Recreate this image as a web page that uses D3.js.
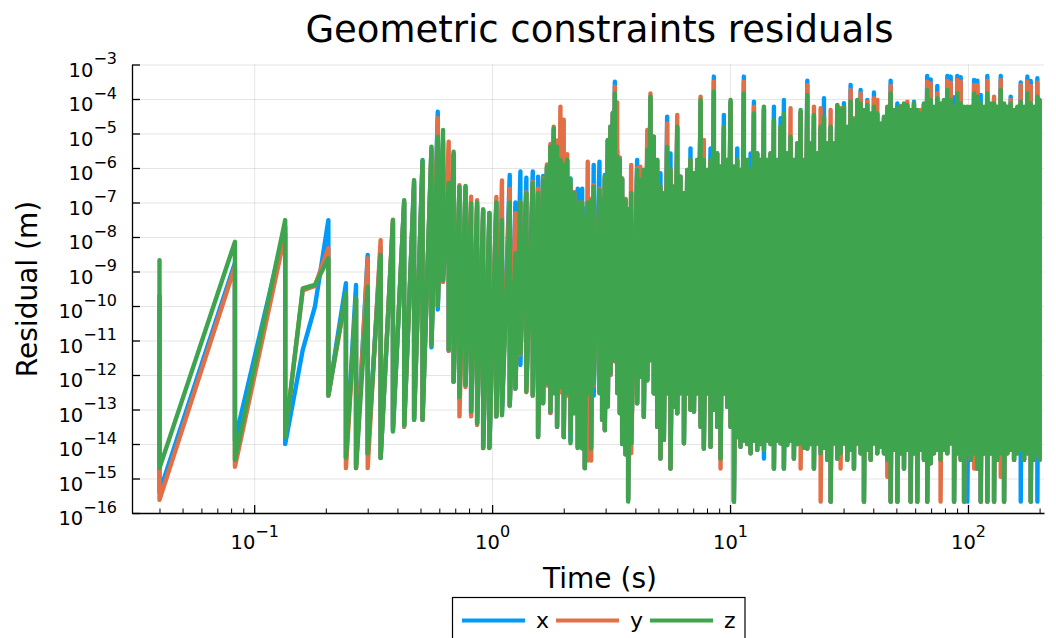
<!DOCTYPE html>
<html>
<head>
<meta charset="utf-8">
<script src="https://cdn.jsdelivr.net/npm/d3@7"></script>
<style>
  body { margin: 0; background: #fff; }
  text { font-family: "DejaVu Sans", sans-serif; fill: #000; }
</style>
</head>
<body>
<svg id="chart" width="1056" height="638"></svg>
<script>
// sample times (s): at each step the residual is logged before and after the correction
var time = [
  0.04, 0.083, 0.135, 0.16, 0.18, 0.205, 0.243, 0.268, 0.30, 0.34, 0.383, 0.427, 0.47, 0.51,
  0.556, 0.591, 0.622, 0.657, 0.689, 0.729, 0.773, 0.816, 0.865, 0.917, 0.974,
  1.042, 1.10, 1.186, 1.253, 1.315, 1.393, 1.482, 1.56, 1.638, 1.70, 1.758, 1.816, 1.875, 1.937,
  2.0, 2.068, 2.135, 2.218, 2.29, 2.39, 2.452, 2.523, 2.607, 2.673, 2.826, 2.90, 2.976,
  3.063, 3.145, 3.215, 3.28, 3.355, 3.44, 3.52, 3.635, 3.73, 3.842,
  4.07, 4.20, 4.34, 4.49, 4.63, 4.78, 4.94, 5.10, 5.27, 5.44, 5.62, 5.80, 6.00, 6.19, 6.40,
  6.61, 6.82, 7.05, 7.28, 7.52, 7.76, 8.02, 8.28, 8.55, 8.83, 9.12, 9.42, 9.73, 10.05, 10.38,
  10.72, 11.07, 11.43, 11.81, 12.20, 12.60, 13.01, 13.44, 13.88, 14.33, 14.80, 15.29, 15.79,
  16.31, 16.84, 17.39, 17.96, 18.55, 19.16, 19.80, 20.45, 21.12, 21.81, 22.52, 23.26, 24.03,
  24.82, 25.63, 26.47, 27.33, 28.23,
  29.15, 30.11, 31.10, 32.12, 33.17, 34.26, 35.38, 36.54, 37.74, 38.98, 40.26, 41.58, 42.95,
  44.36, 45.81, 47.31, 48.87, 50.47, 52.12, 53.83, 55.6, 57.4, 59.3, 61.2, 63.2, 65.3, 67.4,
  69.7, 71.9, 74.3, 76.7, 79.3, 81.9, 84.6, 87.4, 90.2, 93.2, 96.3, 99.4, 102.7, 106.1, 109.5,
  113.1, 116.8, 120.6, 124.6, 128.7, 132.9, 137.3, 141.8, 146.4, 151.2, 156.2, 161.3, 166.6,
  172.1, 177.7, 183.5, 189.5, 195.7, 200
];

// log10 of the residual (m), before correction (High) and after (Low)
var xHigh = [
  -9.7, -8.75, -7.7, -11.27, -10.02, -7.51, -9.34, -9.39, -8.52, -8.3, -7.6, -7.0, -6.4, -5.8,
  -5.5, -4.37, -5.2, -6.5, -5.6, -6.6, -6.6, -7.1, -7.1, -7.25, -7.35,
  -7.0, -7.4, -6.2, -7.0, -6.1, -6.28, -6.1, -6.25, -6.23, -6.0, -5.4, -4.9, -5.4, -5.8, -5.9, -5.8,
  -6.3, -6.7, -6.6, -6.6, -7.17, -7.0, -6.9, -5.91, -5.82, -6.9, -6.2, -5.2, -4.8, -4.4, -3.5, -5.5,
  -5.7, -6.3, -6.9, -7.2, -6.7,
  -5.77, -6.35, -6.06, -5.48, -4.0, -5.09, -5.77, -6.15, -6.73, -4.51, -5.58, -6.54, -4.85, -6.25,
  -6.73, -6.06, -5.43, -6.15, -5.77, -4.1, -5.77, -6.06, -5.43, -3.35, -5.58, -5.96, -4.46, -5.77,
  -4.1, -5.96, -5.43, -6.06, -3.35, -5.77, -5.58, -4.08, -5.58, -5.77, -4.3, -5.77, -5.58, -4.22,
  -5.77, -4.56, -4.03, -5.58, -5.15, -5.77, -5.29, -4.4, -5.77, -3.47, -5.29, -4.5, -5.58, -4.85,
  -3.98, -5.29, -4.85, -5.29, -4.2,
  -4.35, -4.12, -4.85, -3.59, -4.65, -4.05, -3.74, -4.35, -4.03, -4.45, -3.81, -4.45, -4.75, -4.55,
  -4.25, -3.47, -4.35, -4.13, -4.25, -4.15, -4.2, -4.35, -4.08, -4.35, -4.45, -4.15, -3.33, -3.43,
  -4.25, -3.62, -4.15, -4.05, -3.33, -3.35, -3.95, -3.33, -3.37, -4.25, -4.25, -4.25, -3.45, -3.47,
  -3.88, -4.25, -3.33, -4.15, -4.15, -4.25, -3.33, -4.15, -4.25, -3.93, -4.35, -4.25, -3.52, -4.25,
  -3.35, -3.48, -4.25, -3.40, -4.05
];
var xLow = [
  -15.4, -13.9, -14.0, -11.27, -10.02, -12.6, -14.4, -14.6, -14.3, -14.4, -13.6, -13.5, -13.3, -13.3,
  -11.2, -10.1, -9.3, -11.3, -12.2, -12.7, -12.3, -13.1, -13.4, -14.1, -14.1,
  -13.2, -13.1, -12.9, -12.4, -11.71, -12.3, -12.6, -13.8, -12.82, -12.3, -13.1, -12.5, -13.5, -12.4,
  -13.8, -12.5, -13.9, -13.1, -14.1, -14.1, -14.7, -12.5, -14.1, -12.6, -12.5, -13.3, -13.6, -12.9,
  -12.0, -11.4, -11.6, -12.5, -13.1, -14.0, -14.3, -15.6, -14.0,
  -12.82, -12.05, -13.21, -12.15, -11.57, -12.53, -13.50, -14.42, -13.88, -12.53,
  -14.71, -12.92, -13.11, -12.53, -13.98, -12.53, -13.01, -13.06, -12.53, -13.50,
  -14.13, -12.53, -14.08, -13.01, -13.50, -14.42, -12.53, -12.92, -13.50, -15.67,
  -13.8, -14.08, -13.9, -14.0, -14.27, -13.9, -14.17, -14.0, -14.42, -13.9,
  -14.0, -14.71, -13.9, -13.98, -14.71, -14.03, -13.9, -14.42, -14.0, -13.98,
  -14.1, -14.13, -14.0, -14.71, -13.98, -14.27, -14.1, -14.46, -15.67, -13.98, -14.42,
  -14.27, -13.98, -14.46, -14.17, -14.71, -13.98, -14.27, -15.67, -14.17, -14.46,
  -13.98, -14.27, -14.08, -14.27, -14.46, -15.67, -14.17, -15.67, -14.27, -14.71,
  -14.17, -15.67, -14.27, -15.67, -14.17, -14.46, -15.67, -14.56, -14.27, -14.17,
  -14.46, -14.17, -14.27, -13.98, -15.67, -14.27, -14.46, -15.67, -15.67, -14.46,
  -14.27, -14.71, -15.67, -14.27, -15.67, -14.27, -15.67, -14.46, -14.27, -15.67,
  -14.27, -14.17, -14.46, -14.27, -15.67, -14.46, -14.27, -15.67, -14.46, -15.67, -14.46
];
var yHigh = [
  -9.9, -8.86, -7.9, -9.55, -9.42, -8.32, -9.7, -9.8, -8.62, -8.09, -7.5, -7.0, -6.5, -5.9,
  -5.45, -4.56, -5.3, -5.24, -5.6, -6.5, -6.55, -6.83, -6.93, -7.2, -7.3,
  -6.84, -6.36, -6.6, -7.3, -7.0, -6.7, -6.4, -6.6, -6.3, -5.9, -5.3, -4.8, -5.2, -4.22, -4.6, -5.6,
  -6.5, -6.7, -7.0, -7.0, -7.4, -5.82, -6.9, -6.5, -6.6, -6.9, -6.3, -5.2, -4.8, -4.4, -3.64, -4.1,
  -5.7, -6.3, -6.9, -7.2, -5.91,
  -6.0, -5.96, -6.06, -4.90, -3.84, -5.09, -5.77, -6.54, -6.73, -4.71, -6.06, -6.54, -4.46, -6.25,
  -6.73, -6.06, -5.77, -6.15, -5.77, -3.93, -5.19, -6.06, -5.77, -3.50, -5.58, -5.96, -4.85, -5.77,
  -4.1, -5.96, -5.77, -6.06, -3.50, -5.77, -6.06, -4.22, -5.58, -5.77, -4.3, -5.77, -5.58, -4.65,
  -5.77, -4.85, -4.5, -5.58, -4.27, -5.77, -5.29, -4.4, -5.77, -3.59, -5.29, -4.22, -5.58, -4.27,
  -4.55, -5.29, -4.32, -5.29, -4.2,
  -4.27, -4.25, -4.85, -3.74, -4.56, -4.05, -3.84, -4.35, -4.08, -4.45, -3.98, -4.03, -4.75, -4.55,
  -4.25, -3.62, -4.35, -4.3, -4.2, -4.15, -4.08, -4.35, -4.15, -4.35, -4.32, -4.15, -3.50, -3.55,
  -4.25, -3.84, -4.15, -4.05, -3.47, -3.53, -4.25, -3.45, -3.50, -4.25, -4.25, -4.25, -3.59, -3.59,
  -4.15, -4.25, -3.47, -4.15, -3.93, -4.25, -3.45, -4.15, -4.25, -4.03, -4.35, -4.25, -3.59, -4.25,
  -3.50, -3.62, -4.25, -3.53, -4.05
];
var yLow = [
  -15.62, -14.66, -13.75, -9.55, -9.42, -12.6, -14.7, -14.7, -14.7, -14.4, -13.5, -13.5, -13.25, -13.3,
  -11.1, -10.0, -9.3, -11.3, -12.2, -13.2, -12.35, -13.2, -13.45, -14.12, -14.1,
  -13.2, -12.92, -12.9, -12.4, -11.4, -12.5, -12.6, -13.8, -12.8, -12.3, -13.1, -12.5, -13.5, -12.5,
  -13.8, -12.6, -13.6, -13.1, -14.1, -14.1, -14.7, -14.48, -14.48, -12.3, -12.5, -13.3, -13.6, -12.9,
  -12.0, -11.4, -11.6, -12.5, -13.1, -13.6, -14.3, -15.6, -14.27,
  -12.82, -12.05, -13.21, -12.15, -11.57, -12.53, -13.50, -14.42, -13.88, -12.53,
  -14.71, -12.92, -13.11, -12.53, -13.98, -12.53, -13.01, -13.06, -12.53, -13.50,
  -14.13, -12.53, -14.08, -13.01, -13.50, -14.71, -12.53, -12.92, -13.50, -15.67,
  -13.8, -14.08, -13.9, -14.0, -14.27, -13.9, -14.17, -14.0, -14.17, -13.9,
  -14.0, -14.71, -13.9, -13.98, -14.71, -14.03, -13.9, -14.42, -14.0, -14.71,
  -14.1, -14.13, -14.0, -14.71, -13.98, -15.67, -14.1, -14.46, -15.67, -13.98, -14.42,
  -14.71, -13.98, -14.46, -14.17, -14.71, -13.98, -14.27, -15.67, -14.17, -14.46,
  -13.98, -14.27, -14.08, -14.27, -14.95, -15.67, -14.17, -15.67, -14.27, -14.71,
  -14.17, -15.67, -14.27, -15.67, -14.17, -14.46, -15.67, -14.56, -14.27, -14.17,
  -15.67, -14.17, -14.27, -13.98, -15.67, -14.27, -14.46, -15.67, -14.27, -14.46,
  -14.71, -14.71, -15.67, -14.27, -15.67, -14.27, -15.67, -14.46, -14.95, -15.67,
  -14.27, -14.17, -14.46, -14.27, -14.17, -14.46, -14.27, -15.67, -14.46, -14.27, -14.46
];
var zHigh = [
  -8.67, -8.14, -7.51, -9.49, -9.39, -8.62, -9.63, -9.78, -9.44, -8.52, -7.51, -6.93, -6.35, -5.77,
  -5.38, -5.09, -4.90, -6.43, -5.53, -6.54, -6.52, -7.02, -7.0, -7.2, -7.3,
  -7.0, -7.51, -7.0, -8.47, -7.0, -6.73, -6.44, -6.73, -6.34, -5.96, -5.38, -4.85, -5.38, -5.77,
  -5.9, -5.77, -6.33, -6.73, -7.0, -7.0, -7.4, -7.0, -6.95, -6.54, -6.64, -6.93, -6.25, -5.19,
  -4.8, -4.42, -3.84, -5.67, -5.77, -6.34, -6.93, -7.2, -6.73,
  -6.06, -6.35, -6.06, -5.48, -3.93, -5.09, -5.77, -6.54, -6.73, -5.38, -6.06, -6.54, -4.80, -6.25,
  -6.73, -6.06, -5.77, -6.15, -5.77, -4.03, -5.77, -6.06, -5.77, -3.79, -5.58, -5.96, -4.80, -5.77,
  -4.03, -5.96, -5.77, -6.06, -3.84, -5.77, -6.06, -4.42, -5.58, -5.77, -4.22, -5.77, -5.58, -4.61,
  -5.77, -4.80, -4.42, -5.58, -5.09, -5.77, -5.29, -4.32, -5.77, -3.88, -5.29, -4.46, -5.58, -4.80,
  -4.51, -5.29, -4.80, -5.29, -4.17,
  -4.32, -4.22, -4.80, -4.08, -4.61, -4.03, -4.13, -4.32, -4.17, -4.42, -4.22, -4.42, -4.71, -4.51,
  -4.22, -3.84, -4.32, -4.27, -4.22, -4.13, -4.17, -4.32, -4.13, -4.32, -4.42, -4.13, -3.74, -4.03,
  -4.22, -3.98, -4.13, -4.03, -3.74, -4.03, -4.22, -3.84, -4.13, -4.22, -4.22, -4.22, -3.84, -3.93,
  -4.13, -4.22, -3.84, -4.13, -4.13, -4.22, -3.74, -4.13, -4.22, -4.13, -4.32, -4.22, -4.08, -4.22,
  -3.84, -4.13, -4.22, -3.93, -4.03
];
var zLow = [
  -14.70, -14.46, -13.79, -9.49, -9.39, -12.58, -14.4, -14.7, -14.27, -14.41, -13.64, -13.45, -13.30, -13.3,
  -11.13, -10.0, -9.25, -11.27, -12.19, -12.63, -12.29, -13.06, -13.4, -14.12, -14.12,
  -13.2, -13.17, -12.87, -12.39, -11.37, -12.48, -12.58, -13.79, -12.82, -12.24, -13.07, -12.53, -13.5,
  -12.34, -13.8, -12.53, -13.98, -13.11, -14.12, -14.13, -14.7, -12.53, -14.13, -12.24, -12.53, -13.3,
  -13.59, -12.92, -11.95, -11.37, -11.57, -12.53, -13.11, -14.0, -14.3, -15.67, -13.98,
  -12.82, -12.05, -13.21, -12.15, -11.57, -12.53, -13.50, -14.42, -13.88, -12.53,
  -14.71, -12.92, -13.11, -12.53, -13.98, -12.53, -13.01, -13.06, -12.53, -13.50,
  -14.13, -12.53, -14.08, -13.01, -13.50, -14.42, -12.53, -12.92, -13.50, -15.67,
  -13.8, -14.08, -13.9, -14.0, -14.27, -13.9, -14.17, -14.0, -14.17, -13.9,
  -14.0, -14.71, -13.9, -13.98, -14.71, -14.03, -13.9, -14.42, -14.0, -13.98,
  -14.1, -14.13, -14.0, -14.71, -13.98, -14.27, -14.1, -14.46, -15.67, -13.98, -14.42,
  -14.27, -13.98, -14.46, -14.17, -14.71, -13.98, -14.27, -15.67, -14.17, -14.46,
  -13.98, -14.27, -14.08, -14.27, -14.46, -15.67, -14.17, -15.67, -14.27, -14.71,
  -14.17, -15.67, -14.27, -15.67, -14.17, -14.46, -15.67, -14.56, -14.27, -14.17,
  -14.46, -14.17, -14.27, -13.98, -15.67, -14.27, -14.46, -15.67, -14.27, -14.46,
  -14.27, -14.71, -15.67, -14.27, -15.67, -14.27, -15.67, -14.46, -14.27, -15.67,
  -14.27, -14.17, -14.46, -14.27, -14.17, -14.46, -14.27, -15.67, -14.46, -14.27, -14.46
];

var seriesNames = ['x', 'y', 'z'];
var seriesColors = ['#009afa', '#e26f46', '#3ea44e'];
var yTickExp = [-16, -15, -14, -13, -12, -11, -10, -9, -8, -7, -6, -5, -4, -3];
var xTickExp = [-1, 0, 1, 2];
var xMinorTicks = [0.04, 0.05, 0.06, 0.07, 0.08, 0.09, 0.2, 0.3, 0.4, 0.5, 0.6, 0.7, 0.8, 0.9,
                   2, 3, 4, 5, 6, 7, 8, 9, 20, 30, 40, 50, 60, 70, 80, 90, 200];

var plotLeft = 132, plotRight = 1044, plotTop = 64.5, plotBottom = 513;

var svg = d3.select('#chart');

var x = d3.scaleLog()
  .domain([Math.pow(10, -1.5135), Math.pow(10, 2.3195)])
  .range([plotLeft, plotRight]);
var y = d3.scaleLog()
  .domain([1e-16, 1e-3])
  .range([plotBottom, plotTop]);

var xMajor = xTickExp.map(function(e) { return Math.pow(10, e); });
var yMajor = yTickExp.map(function(e) { return Math.pow(10, e); });

// grid
svg.append('g')
  .attr('transform', 'translate(0,' + plotBottom + ')')
  .call(d3.axisBottom(x).tickValues(xMajor).tickSize(-(plotBottom - plotTop)).tickFormat(''))
  .call(function(g) {
    g.select('.domain').remove();
    g.selectAll('line').attr('stroke', '#000').attr('stroke-opacity', 0.1).attr('stroke-width', 1);
  });
svg.append('g')
  .attr('transform', 'translate(' + plotLeft + ',0)')
  .call(d3.axisLeft(y).tickValues(yMajor).tickSize(-(plotRight - plotLeft)).tickFormat(''))
  .call(function(g) {
    g.select('.domain').remove();
    g.selectAll('line').attr('stroke', '#000').attr('stroke-opacity', 0.1).attr('stroke-width', 1);
  });

// series
var highs = [xHigh, yHigh, zHigh];
var lows = [xLow, yLow, zLow];

var line = d3.line()
  .defined(function(d) { return isFinite(d[1]); })
  .x(function(d) { return x(d[0]); })
  .y(function(d) { return y(d[1]); });

seriesNames.forEach(function(name, k) {
  var pts = [];
  time.forEach(function(t, i) {
    pts.push([t, Math.pow(10, highs[k][i])]);
    if (lows[k][i] !== highs[k][i]) pts.push([t, Math.pow(10, lows[k][i])]);
  });
  svg.append('path')
    .datum(pts)
    .attr('fill', 'none')
    .attr('stroke', seriesColors[k])
    .attr('stroke-width', 4.4)
    .attr('stroke-linejoin', 'round')
    .attr('stroke-linecap', 'round')
    .attr('d', line);
});

// axes
function supLabel(sel, exps, mainSize, supSize) {
  sel.each(function(d, i) {
    var t = d3.select(this);
    t.text(null);
    t.append('tspan').attr('font-size', mainSize).text('10');
    t.append('tspan').attr('font-size', supSize).attr('dy', -12.5)
      .text(String(exps[i]).replace('-', '\u2212'));
  });
}

var xAxisG = svg.append('g')
  .attr('transform', 'translate(0,' + plotBottom + ')')
  .call(d3.axisBottom(x).tickValues(xMajor).tickSize(-8).tickSizeOuter(0));
svg.append('g')
  .attr('transform', 'translate(0,' + plotBottom + ')')
  .call(d3.axisBottom(x).tickValues(xMinorTicks).tickSize(-4.5).tickSizeOuter(0).tickFormat(''))
  .call(function(g) { g.select('.domain').remove(); });
xAxisG.selectAll('.tick text')
  .attr('y', 36).attr('dy', null)
  .attr('text-anchor', 'middle')
  .call(supLabel, xTickExp, 19.5, 16);

var yAxisG = svg.append('g')
  .attr('transform', 'translate(' + plotLeft + ',0)')
  .call(d3.axisLeft(y).tickValues(yMajor).tickSize(-8).tickSizeOuter(0));
yAxisG.selectAll('.tick text')
  .attr('x', -15).attr('dy', null).attr('y', 11.5)
  .attr('text-anchor', 'end')
  .call(supLabel, yTickExp, 19.5, 16);

[xAxisG, yAxisG].forEach(function(g) {
  g.attr('font-family', null).attr('font-size', null);
  g.select('.domain').attr('stroke', '#000').attr('stroke-width', 1.3);
  g.selectAll('.tick line').attr('stroke', '#000').attr('stroke-width', 1.3);
});

// titles
svg.append('text')
  .attr('x', 599.5).attr('y', 42)
  .attr('text-anchor', 'middle')
  .attr('font-size', 37)
  .text('Geometric constraints residuals');
svg.append('text')
  .attr('x', 600).attr('y', 588)
  .attr('text-anchor', 'middle')
  .attr('font-size', 28)
  .text('Time (s)');
svg.append('text')
  .attr('transform', 'translate(37,289) rotate(-90)')
  .attr('text-anchor', 'middle')
  .attr('font-size', 28)
  .text('Residual (m)');

// legend
var leg = svg.append('g');
leg.append('rect')
  .attr('x', 452.5).attr('y', 597.5)
  .attr('width', 292.5).attr('height', 50)
  .attr('fill', '#fff').attr('stroke', '#000').attr('stroke-width', 1.2);
var legItemX = [462, 556, 650];
seriesNames.forEach(function(name, k) {
  leg.append('line')
    .attr('x1', legItemX[k]).attr('x2', legItemX[k] + 63)
    .attr('y1', 620.5).attr('y2', 620.5)
    .attr('stroke', seriesColors[k]).attr('stroke-width', 4);
  leg.append('text')
    .attr('x', legItemX[k] + 74).attr('y', 628)
    .attr('font-size', 22)
    .text(name);
});
</script>
</body>
</html>
